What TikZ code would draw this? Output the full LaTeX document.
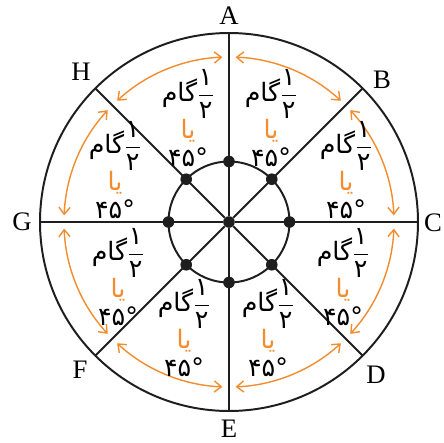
\documentclass[tikz,border=0pt]{standalone}
\usepackage{fontspec}
\setmainfont{Liberation Serif}
\newfontfamily\persianfont[Script=Arabic]{DejaVu Sans}
\TeXXeTstate=1
\usetikzlibrary{arrows.meta}
\definecolor{myorange}{RGB}{243,140,45}
\definecolor{mydark}{RGB}{30,30,30}
\newcommand{\halfgam}{\beginR گام\endR$\displaystyle\frac{\hbox{۱}}{\hbox{۲}}$}
\tikzset{
  rim/.style={line width=1.4pt, color=mydark},
  spoke/.style={line width=1.4pt, color=mydark},
  dot/.style={circle, fill=mydark, inner sep=0pt, minimum size=0.29cm},
  pointlabel/.style={font=\fontsize{19}{19}\selectfont, inner sep=0pt},
  sectortext/.style={align=center, font=\persianfont\fontsize{18}{20}\selectfont, inner sep=0pt},
  arcarrow/.style={{Straight Barb[length=5pt,width=8pt]}-{Straight Barb[length=5pt,width=8pt]},
    line width=1pt, color=myorange}
}

\begin{document}
\begin{tikzpicture}[x=0.025cm, y=0.025cm]
  \useasboundingbox (-229,-221) rectangle (214,222);

  % circles
  \draw[rim] (0,0) circle (189);
  \draw[rim] (0,0) circle (60.5);

  % spokes and dots
  \node[dot] (hub) at (0,0) {};
  \foreach \a in {0,45,...,315} {
    \coordinate (rim\a) at (\a:189);
    \draw[spoke] (hub) -- (rim\a);
    \node[dot] (d\a) at (\a:60.5) {};
  }

  % orange arcs
  \foreach \a in {0,45,...,315}
    \draw[arcarrow] (\a+2.3:165) arc[start angle=\a+2.3, end angle=\a+42.7, radius=165];

  % letters
  \node[pointlabel] (labA) at (0,206) {A};
  \node[pointlabel] (labB) at (153,142) {B};
  \node[pointlabel] (labC) at (204,-1) {C};
  \node[pointlabel] (labD) at (147,-153) {D};
  \node[pointlabel] (labE) at (0,-207) {E};
  \node[pointlabel] (labF) at (-149,-148) {F};
  \node[pointlabel] (labG) at (-207,0) {G};
  \node[pointlabel] (labH) at (-148,150) {H};

  % sector texts
  \foreach \n/\x/\y in {1/42/104, 2/117/52, 3/114/-55, 4/39/-106,
                        5/-45/-106, 6/-111/-55, 7/-114/52, 8/-41/104}
    \node[sectortext] (t\n) at (\x,\y)
      {\halfgam\\{\color{myorange}\beginR یا\endR}\\ ۴۵°};
\end{tikzpicture}
\end{document}
